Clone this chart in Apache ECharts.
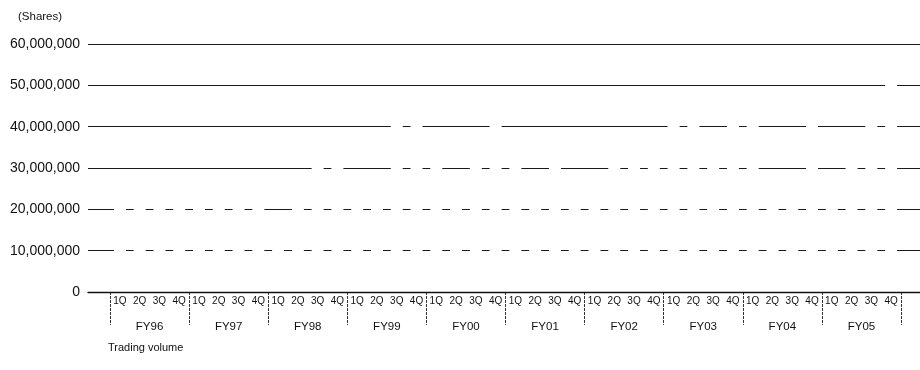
<!DOCTYPE html>
<html>
<head>
<meta charset="utf-8">
<style>
  html, body { margin: 0; padding: 0; background: #fff; }
  #myChart { width: 920px; height: 370px; }
</style>
<script src="https://cdn.jsdelivr.net/npm/echarts@6/dist/echarts.min.js"></script>
</head>
<body>
<div id="myChart"></div>
<script>
  // 年度 / 季度
  var years = ['FY96', 'FY97', 'FY98', 'FY99', 'FY00', 'FY01', 'FY02', 'FY03', 'FY04', 'FY05']
  var quarterNames = ['1Q', '2Q', '3Q', '4Q']
  var volume = [
    24000000, 26000000, 23000000, 27000000,
    25000000, 28000000, 26000000, 24000000,
    17000000, 26000000, 35000000, 38000000,
    28000000, 27000000, 44000000, 46000000,
    36000000, 29000000, 37000000, 45000000,
    34000000, 27000000, 33000000, 26000000,
    28000000, 32000000, 35000000, 36000000,
    44000000, 42000000, 37000000, 47000000,
    43000000, 28000000, 27000000, 45000000,
    29000000, 36000000, 46000000, 52000000
  ]
  var yTicks = [0, 10000000, 20000000, 30000000, 40000000, 50000000, 60000000]

  var quarters = []
  years.forEach(function (y) {
    quarterNames.forEach(function (q) { quarters.push(y + ' ' + q) })
  })

  var font = '"Liberation Sans", Arial, sans-serif'
  var yMax = yTicks[yTicks.length - 1]
  var yStep = yTicks[1] - yTicks[0]

  var myChart = echarts.init(document.getElementById('myChart'))
  myChart.setOption({
    backgroundColor: '#fff',
    animation: false,
    title: [
      { text: '(Shares)', left: 18, top: 11, padding: 0,
        textStyle: { fontSize: 11.5, fontWeight: 'normal', color: '#111', fontFamily: font } },
      { text: 'Trading volume', left: 108, top: 342, padding: 0,
        textStyle: { fontSize: 11, fontWeight: 'normal', color: '#111', fontFamily: font } }
    ],
    grid: [
      // full width grid: grid lines + y labels
      { left: 88, right: 0, top: 44, bottom: 78 },
      // bars + category labels
      { left: 110, right: 19, top: 44, bottom: 78 }
    ],
    xAxis: [
      { gridIndex: 0, type: 'value', min: 0, max: 1, z: 10,
        axisLine: { show: true, lineStyle: { color: '#111', width: 1.4 } },
        axisTick: { show: false }, axisLabel: { show: false }, splitLine: { show: false } },
      { gridIndex: 1, type: 'category', data: quarters, position: 'bottom',
        axisLine: { show: false }, axisTick: { show: false },
        axisLabel: { interval: 0, margin: 4, fontSize: 10, color: '#111', fontFamily: font,
          formatter: function (v) { return v.split(' ')[1] } } },
      { gridIndex: 1, type: 'category', data: years, position: 'bottom',
        axisLine: { show: false },
        axisTick: { show: true, length: 33, lineStyle: { color: '#333', width: 1, type: [3, 1] } },
        axisLabel: { margin: 29, fontSize: 11.5, color: '#111', fontFamily: font } }
    ],
    yAxis: [
      { gridIndex: 0, type: 'value', min: 0, max: yMax, interval: yStep,
        axisLine: { show: false }, axisTick: { show: false },
        axisLabel: { margin: 8, fontSize: 14, color: '#111', fontFamily: font,
          formatter: function (v) { return String(v).replace(/\B(?=(\d{3})+(?!\d))/g, ',') } },
        splitLine: { show: true, lineStyle: { color: '#1a1a1a', width: 1.2 } } },
      { gridIndex: 1, type: 'value', min: 0, max: yMax, interval: yStep, show: false,
        splitLine: { show: false } }
    ],
    series: [
      {
        name: 'Trading volume',
        type: 'bar',
        xAxisIndex: 1,
        yAxisIndex: 1,
        data: volume,
        barWidth: 12,
        // 扫描件里柱子是白色的, 只在网格线上留下缺口
        itemStyle: { color: '#fff' }
      }
    ]
  })
</script>
</body>
</html>
